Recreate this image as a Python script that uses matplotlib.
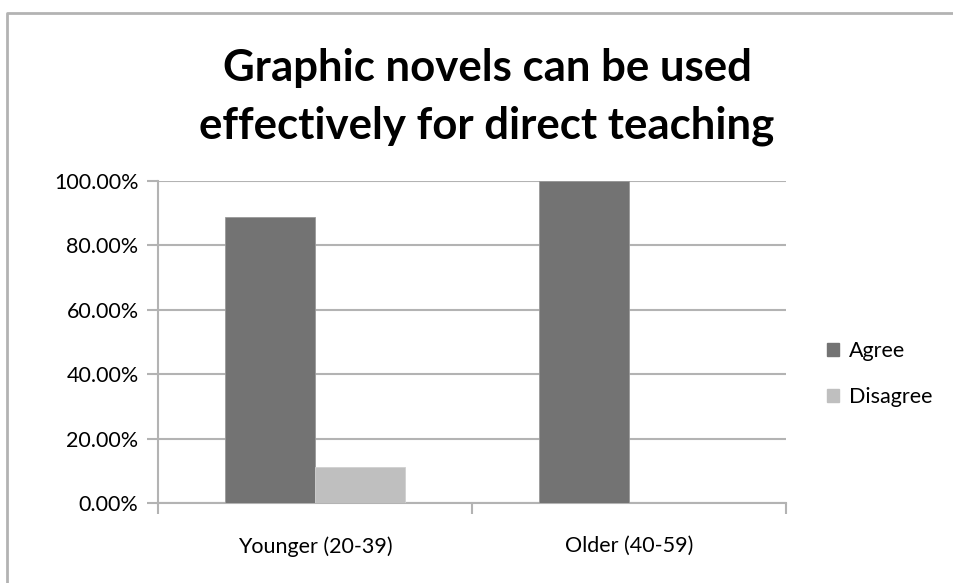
import matplotlib.pyplot as plt
import matplotlib.patches as mpatches
from matplotlib.lines import Line2D
import numpy as np
from matplotlib.ticker import FuncFormatter, FixedLocator

categories = ["Younger (20-39)", "Older (40-59)"]
agree = [88.89, 100.0]
disagree = [11.11, 0.0]
series_names = ["Agree", "Disagree"]
colors = ["#737373", "#bfbfbf"]

plt.rcParams["font.family"] = ["Lato", "DejaVu Sans"]

W, H = 954, 583
fig = plt.figure(figsize=(W / 100, H / 100), dpi=100)

# outer chart frame: only the left and top edges are visible in the reference
fig.lines.append(Line2D([7 / W, 7 / W, 1.1], [-0.1, 1 - 12.5 / H, 1 - 12.5 / H],
                        transform=fig.transFigure, color="#b3b3b3", linewidth=2))

ax = fig.add_axes([158 / W, (H - 503) / H, (786 - 158) / W, (503 - 181) / H])

x = np.arange(len(categories))
width = 1 / 3.5
ax.bar(x - width / 2, agree, width, color=colors[0], edgecolor="#9a9a9a", linewidth=0.6, zorder=3)
ax.bar(x + width / 2, disagree, width, color=colors[1], edgecolor="#d0d0d0", linewidth=0.6, zorder=3)

ax.set_xlim(-0.5, len(categories) - 0.5)
ax.set_ylim(0, 100)
ax.set_yticks(np.arange(0, 101, 20))
ax.yaxis.set_major_formatter(FuncFormatter(lambda v, p: f"{v:.2f}%"))
ax.grid(axis="y", color="#b3b3b3", linewidth=1.5, zorder=0)

ax.xaxis.set_major_locator(FixedLocator(np.arange(-0.5, len(categories), 1)))
ax.xaxis.set_minor_locator(FixedLocator(x))
ax.set_xticklabels([])
ax.set_xticklabels(categories, minor=True)
ax.tick_params(axis="x", which="major", length=8, width=1.5, color="#b3b3b3")
ax.tick_params(axis="x", which="minor", length=0, pad=24, labelsize=15.5)
ax.tick_params(axis="y", length=8, width=1.5, color="#b3b3b3", labelsize=15.5, pad=6)

for s in ["top", "right"]:
    ax.spines[s].set_visible(False)
ax.spines["left"].set_color("#b3b3b3")
ax.spines["left"].set_linewidth(1.5)
ax.spines["bottom"].set_color("#b3b3b3")
ax.spines["bottom"].set_linewidth(1.5)

fig.text(487 / W, 1 - 97 / H, "Graphic novels can be used\neffectively for direct teaching",
         ha="center", va="center", fontsize=31.5, fontweight="bold", linespacing=1.55)

handles = [mpatches.Patch(color=c, label=n) for c, n in zip(colors, series_names)]
fig.legend(handles=handles, loc="center left", bbox_to_anchor=(827 / W, 1 - 374 / H),
           frameon=False, fontsize=15.5, handlelength=0.55, handleheight=0.55,
           handletextpad=0.45, labelspacing=1.2, borderpad=0, borderaxespad=0)

fig.savefig("out.png", dpi=100)
